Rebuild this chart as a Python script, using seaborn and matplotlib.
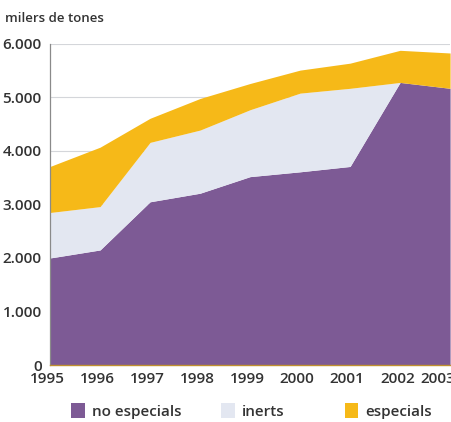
import numpy as np
import matplotlib
matplotlib.use("Agg")
import matplotlib.pyplot as plt
import matplotlib.patches as mpatches
import matplotlib.transforms as mtransforms
import seaborn as sns

# Data (thousands of tonnes)
years = [1995, 1996, 1997, 1998, 1999, 2000, 2001, 2002, 2003]
no_especials = [2000, 2150, 3050, 3210, 3520, 3610, 3710, 5280, 5170]
inerts = [850, 810, 1110, 1180, 1250, 1470, 1460, 0, 0]
especials = [860, 1110, 450, 590, 490, 430, 470, 600, 660]

series_names = ["no especials", "inerts", "especials"]
colors = ["#7d5a95", "#e3e7f1", "#f6b918"]
y_ticks = [0, 1000, 2000, 3000, 4000, 5000, 6000]
y_tick_labels = ["0", "1.000", "2.000", "3.000", "4.000", "5.000", "6.000"]

sns.set_style("white")
plt.rcParams["font.family"] = ["Open Sans", "DejaVu Sans"]

fig = plt.figure(figsize=(4.51, 4.22), dpi=100)
ax = fig.add_axes([0.111, 0.135, 0.887, 0.761])

# Stacked areas
ax.stackplot(years, no_especials, inerts, especials, colors=colors,
             linewidth=0, zorder=2)

ax.set_xlim(1995, 2003)
ax.set_ylim(0, 6000)
ax.set_yticks(y_ticks)
ax.set_yticklabels(y_tick_labels)
ax.set_xticks(years)
ax.set_xticklabels([str(y) for y in years])

ax.yaxis.grid(True, color="#d4d6da", linewidth=0.8, zorder=0)
ax.set_axisbelow(True)

sns.despine(ax=ax, top=True, right=True)
ax.spines["left"].set_color("#8a8a8a")
ax.spines["left"].set_linewidth(0.9)
ax.spines["bottom"].set_color("#c09030")
ax.spines["bottom"].set_linewidth(1.0)
for side in ["left", "bottom"]:
    ax.spines[side].set_zorder(3)

ax.tick_params(axis="both", which="both", direction="out", length=3,
               width=0.8, color="#8a8a8a", labelcolor="#333333",
               labelsize=11)
ax.tick_params(axis="x", pad=2)
ax.tick_params(axis="y", pad=3)
for lbl in ax.get_xticklabels() + ax.get_yticklabels():
    lbl.set_fontweight("semibold")

# the last year label sits a little left, cut by the right edge as in the original
xlabels = ax.get_xticklabels()
for lbl in xlabels[:-1]:
    lbl.set_transform(lbl.get_transform() +
                      mtransforms.ScaledTranslation(-2 / 72, 0, fig.dpi_scale_trans))
xlabels[-1].set_transform(xlabels[-1].get_transform() +
                          mtransforms.ScaledTranslation(-9 / 72, 0, fig.dpi_scale_trans))

fig.text(0.011, 0.957, "milers de tones", fontsize=9.5, color="#333333",
         fontweight="semibold", ha="left", va="center")

# Legend entries placed one by one, as in the reference
legend_x = [0.158, 0.49, 0.764]
for c, n, lx in zip(colors, series_names, legend_x):
    h = mpatches.Patch(facecolor=c, edgecolor="none", label=n)
    leg = fig.legend(handles=[h], loc="center left", bbox_to_anchor=(lx, 0.026),
                     frameon=False, fontsize=11, handlelength=0.9,
                     handleheight=1.1, handletextpad=0.45, borderpad=0,
                     borderaxespad=0)
    for t in leg.get_texts():
        t.set_color("#333333")
        t.set_fontweight("semibold")

fig.savefig("out.png", dpi=100)
